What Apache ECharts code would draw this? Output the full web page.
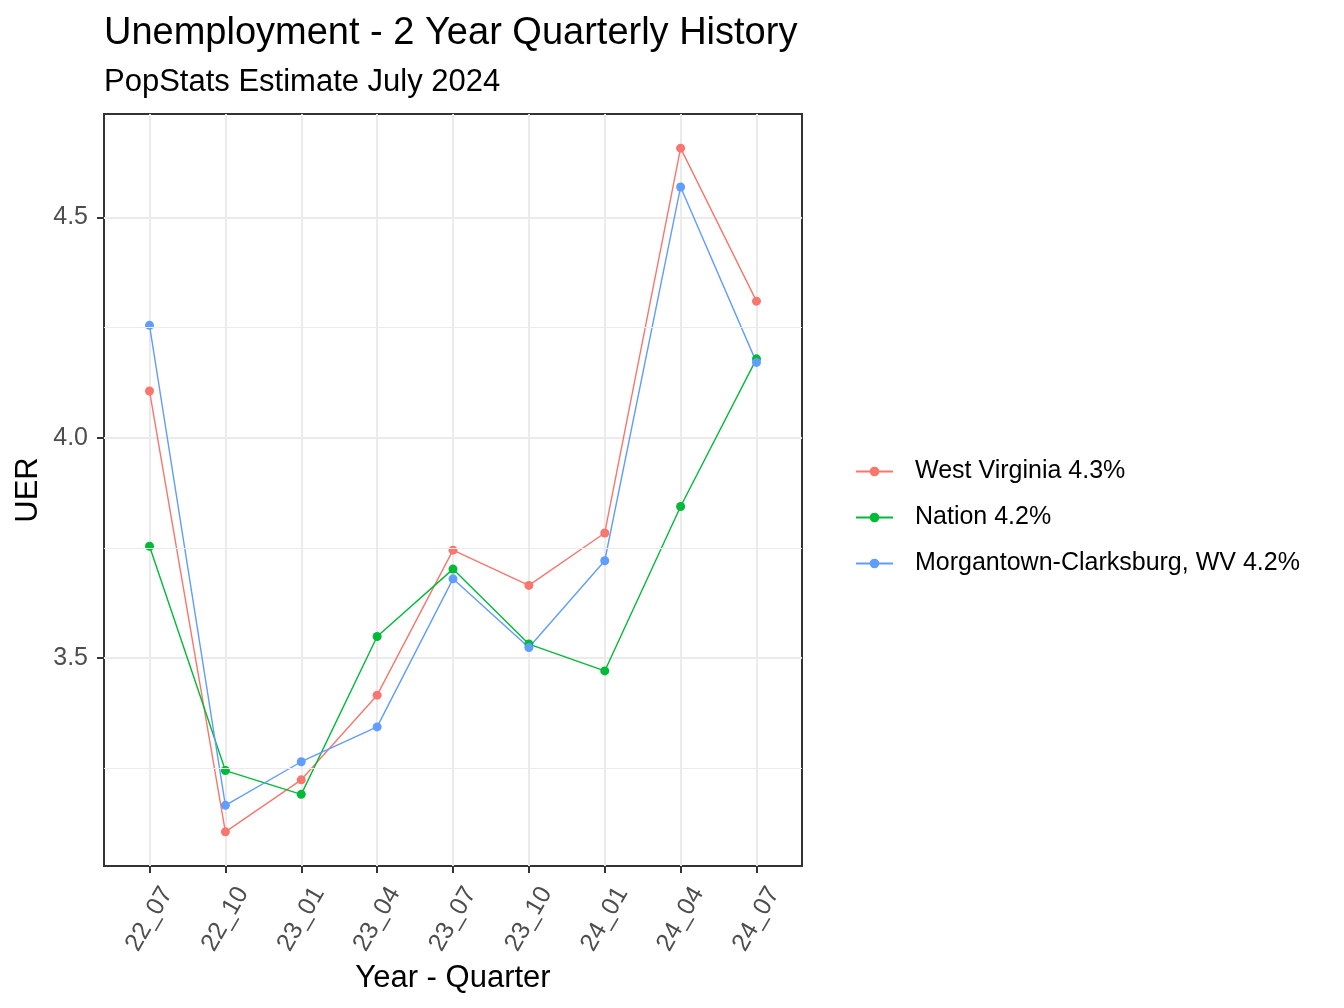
<!DOCTYPE html>
<html>
<head>
<meta charset="utf-8">
<title>Unemployment - 2 Year Quarterly History</title>
<script src="https://cdn.jsdelivr.net/npm/echarts@6/dist/echarts.min.js"></script>
<style>
  html, body { margin: 0; padding: 0; background: #fff; }
  #chart { width: 1344px; height: 1008px; }
</style>
</head>
<body>
<div id="chart"></div>
<script>
// quarters on the x axis (YY_MM)
var quarters = ['22_07', '22_10', '23_01', '23_04', '23_07', '23_10', '24_01', '24_04', '24_07'];

// unemployment rate
var westVirginia = [4.106, 3.106, 3.224, 3.416, 3.745, 3.665, 3.784, 4.657, 4.310];
var nation       = [3.754, 3.245, 3.191, 3.549, 3.702, 3.532, 3.471, 3.844, 4.179];
var morgantown   = [4.255, 3.166, 3.265, 3.344, 3.680, 3.524, 3.721, 4.569, 4.171];

var seriesNames = ['West Virginia 4.3%', 'Nation 4.2%', 'Morgantown-Clarksburg, WV 4.2%'];
var seriesColors = ['#F8766D', '#00BA38', '#619CFF'];

var yTicks = [3.5, 4.0, 4.5];
var yMinorTicks = [3.25, 3.75, 4.25];

var FONT = 'Liberation Sans, Arial, sans-serif';

// ggplot style 5% padding of the y range
var allVals = westVirginia.concat(nation, morgantown);
var lo = Math.min.apply(null, allVals), hi = Math.max.apply(null, allVals);
var pad = (hi - lo) * 0.05;

var xIdx = quarters.map(function (q, i) { return i; });

function lineSeries(name, values, color) {
    return {
        name: name,
        type: 'line',
        data: values.map(function (v, i) { return [i, v]; }),
        symbol: 'circle',
        symbolSize: 9,
        itemStyle: { color: color },
        lineStyle: { color: color, width: 1.4 },
        z: 3
    };
}

var myChart = echarts.init(document.getElementById('chart'));
var option = {
    animation: false,
    backgroundColor: '#ffffff',
    title: {
        text: 'Unemployment - 2 Year Quarterly History',
        subtext: 'PopStats Estimate July 2024',
        left: 104,
        top: 15,
        padding: 0,
        itemGap: 14,
        textStyle: { fontFamily: FONT, fontSize: 38, fontWeight: 'normal', color: '#000', lineHeight: 38 },
        subtextStyle: { fontFamily: FONT, fontSize: 31, color: '#000', lineHeight: 31 }
    },
    legend: {
        data: seriesNames,
        orient: 'vertical',
        left: 855,
        top: 459,
        padding: 0,
        itemWidth: 37,
        itemHeight: 12,
        itemGap: 21,
        textStyle: { fontFamily: FONT, fontSize: 25, color: '#000', lineHeight: 25, padding: [0, 0, 0, 17] }
    },
    grid: {
        left: 104,
        top: 114,
        width: 698,
        height: 752,
        show: true,
        borderColor: '#333333',
        borderWidth: 2,
        backgroundColor: 'transparent'
    },
    xAxis: {
        type: 'value',
        min: -0.6,
        max: quarters.length - 1 + 0.6,
        name: 'Year - Quarter',
        nameLocation: 'middle',
        nameGap: 94,
        nameTextStyle: { fontFamily: FONT, fontSize: 31, color: '#000', lineHeight: 31 },
        axisLine: { show: false, onZero: false },
        axisTick: { show: true, length: 7, customValues: xIdx, lineStyle: { color: '#333333', width: 2 } },
        axisLabel: {
            customValues: xIdx,
            rotate: 60,
            align: 'center',
            verticalAlign: 'middle',
            margin: 53,
            fontFamily: FONT,
            fontSize: 25,
            color: '#4D4D4D',
            formatter: function (v) { return quarters[Math.round(v)]; }
        },
        splitLine: { show: true, lineStyle: { color: '#EBEBEB', width: 2 } }
    },
    yAxis: {
        type: 'value',
        min: lo - pad,
        max: hi + pad,
        name: 'UER',
        nameLocation: 'middle',
        nameGap: 60,
        nameMoveOverlap: false,
        nameRotate: 90,
        nameTextStyle: { fontFamily: FONT, fontSize: 31, color: '#000', lineHeight: 31 },
        axisLine: { show: false, onZero: false },
        axisTick: { show: true, length: 7, customValues: yTicks, lineStyle: { color: '#333333', width: 2 } },
        axisLabel: {
            customValues: yTicks,
            margin: 16,
            fontFamily: FONT,
            fontSize: 25,
            color: '#4D4D4D',
            formatter: function (v) { return v.toFixed(1); }
        },
        splitLine: { show: true, lineStyle: { color: '#EBEBEB', width: 2 } }
    },
    series: [
        {
            // minor horizontal grid lines
            type: 'line',
            data: [],
            silent: true,
            z: 1,
            markLine: {
                silent: true,
                symbol: 'none',
                label: { show: false },
                lineStyle: { color: '#EBEBEB', width: 1, type: 'solid' },
                data: yMinorTicks.map(function (v) { return { yAxis: v }; })
            }
        },
        lineSeries(seriesNames[0], westVirginia, seriesColors[0]),
        lineSeries(seriesNames[1], nation, seriesColors[1]),
        lineSeries(seriesNames[2], morgantown, seriesColors[2])
    ]
};
myChart.setOption(option);
</script>
</body>
</html>
